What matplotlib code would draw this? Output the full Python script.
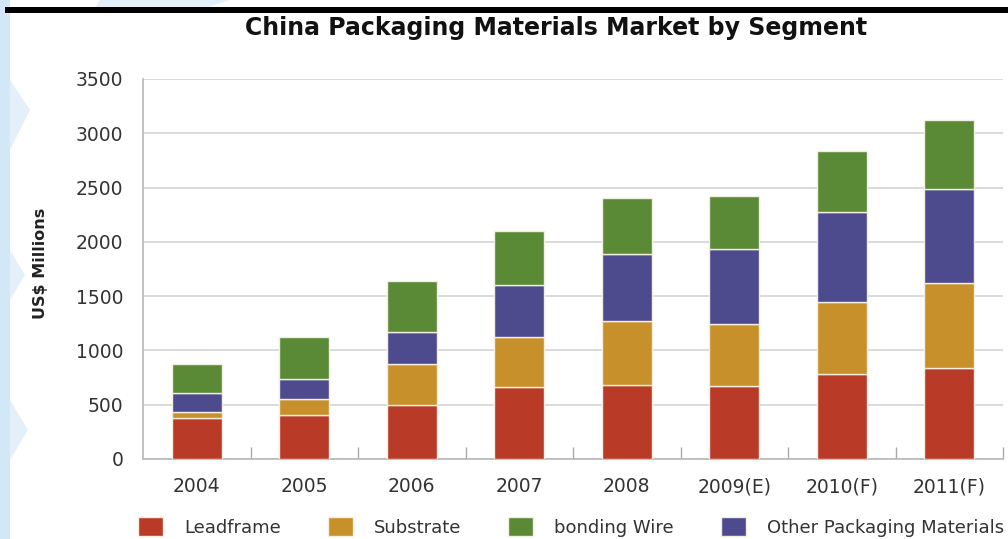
import matplotlib
matplotlib.use("Agg")
import matplotlib.pyplot as plt
from matplotlib.patches import Rectangle, Polygon
import numpy as np

years = ["2004", "2005", "2006", "2007", "2008", "2009(E)", "2010(F)", "2011(F)"]
leadframe = [375, 405, 495, 660, 680, 675, 785, 840]
substrate = [60, 150, 380, 465, 590, 565, 660, 785]
other_materials = [175, 185, 295, 475, 615, 690, 830, 865]
bonding_wire = [265, 385, 470, 500, 515, 490, 560, 630]
y_ticks = [0, 500, 1000, 1500, 2000, 2500, 3000, 3500]

title = "China Packaging Materials Market by Segment"
y_label = "US$ Millions"

c_lead = "#b93a27"
c_sub = "#c8902b"
c_green = "#5b8a37"
c_blue = "#4e4a8e"

plt.rcParams['font.family'] = ['DejaVu Sans']

W, H = 1008, 539
fig = plt.figure(figsize=(W / 100, H / 100), dpi=100)
fig.patch.set_facecolor("white")

# decorative background (light blue watermark on the left)
bg = "#d3e8f6"
def px(x, y):
    return (x / W, 1 - y / H)
fig.patches.append(Rectangle(px(0, 539), 10 / W, 1, transform=fig.transFigure,
                             facecolor=bg, edgecolor="none", zorder=0))
for pts in [
    [(100, 0), (230, 0), (205, 8), (95, 8)],
    [(10, 80), (30, 110), (10, 150)],
    [(10, 250), (25, 275), (10, 300)],
    [(10, 400), (28, 430), (10, 460)],
]:
    fig.patches.append(Polygon([px(*p) for p in pts], closed=True, transform=fig.transFigure,
                               facecolor="#e4f0f9", edgecolor="none", zorder=0))
# black top rule
fig.patches.append(Rectangle(px(5, 13), (W - 5) / W, 6 / H, transform=fig.transFigure,
                             facecolor="black", edgecolor="none", zorder=1))

ax = fig.add_axes([143 / W, 1 - 459 / H, (1003 - 143) / W, (459 - 79) / H])
ax.set_facecolor("none")

x = np.arange(len(years))
w = 0.465
b1 = np.array(leadframe)
b2 = b1 + np.array(substrate)
b3 = b2 + np.array(other_materials)
ekw = dict(edgecolor="#f3efe0", linewidth=1.0, zorder=3)
h_lead = ax.bar(x, leadframe, w, color=c_lead, label="Leadframe", **ekw)
h_sub = ax.bar(x, substrate, w, bottom=b1, color=c_sub, label="Substrate", **ekw)
h_blue = ax.bar(x, other_materials, w, bottom=b2, color=c_blue, label="Other Packaging Materials", **ekw)
h_green = ax.bar(x, bonding_wire, w, bottom=b3, color=c_green, label="bonding Wire", **ekw)

ax.set_xlim(-0.5, len(years) - 0.5)
ax.set_ylim(0, 3500)
ax.set_yticks(y_ticks)
ax.set_yticklabels([str(t) for t in y_ticks])
ax.set_xticks(x)
ax.set_xticklabels(years)
ax.set_xticks(np.arange(len(years)) + 0.5, minor=True)
ax.tick_params(axis="x", which="major", length=0, pad=13, labelsize=13.5, labelcolor="#333333")
ax.tick_params(axis="x", which="minor", direction="in", length=9, width=1, color="#aaaaaa")
ax.tick_params(axis="y", length=0, pad=14, labelsize=13.5, labelcolor="#333333")
ax.grid(axis="y", color="#d4d4d4", linewidth=1.2, zorder=0)
ax.set_axisbelow(True)
for s in ["top", "right"]:
    ax.spines[s].set_visible(False)
for s in ["left", "bottom"]:
    ax.spines[s].set_color("#b8b8b8")
    ax.spines[s].set_linewidth(1.2)

fig.text(40 / W, 1 - 263 / H, y_label, rotation=90, ha="center", va="center",
         fontsize=11.5, fontweight="bold", color="#222222")
fig.text(556 / W, 1 - 28 / H, title, ha="center", va="center",
         fontsize=17, fontweight="bold", color="#111111")

fig.legend([h_lead, h_sub, h_green, h_blue],
           ["Leadframe", "Substrate", "bonding Wire", "Other Packaging Materials"],
           loc="center", bbox_to_anchor=(571 / W, 1 - 527 / H), ncol=4, frameon=False,
           fontsize=13, handlelength=1.4, handleheight=1.2, handletextpad=1.15,
           columnspacing=2.6, labelcolor="#333333")

fig.savefig("out.png", dpi=100)
